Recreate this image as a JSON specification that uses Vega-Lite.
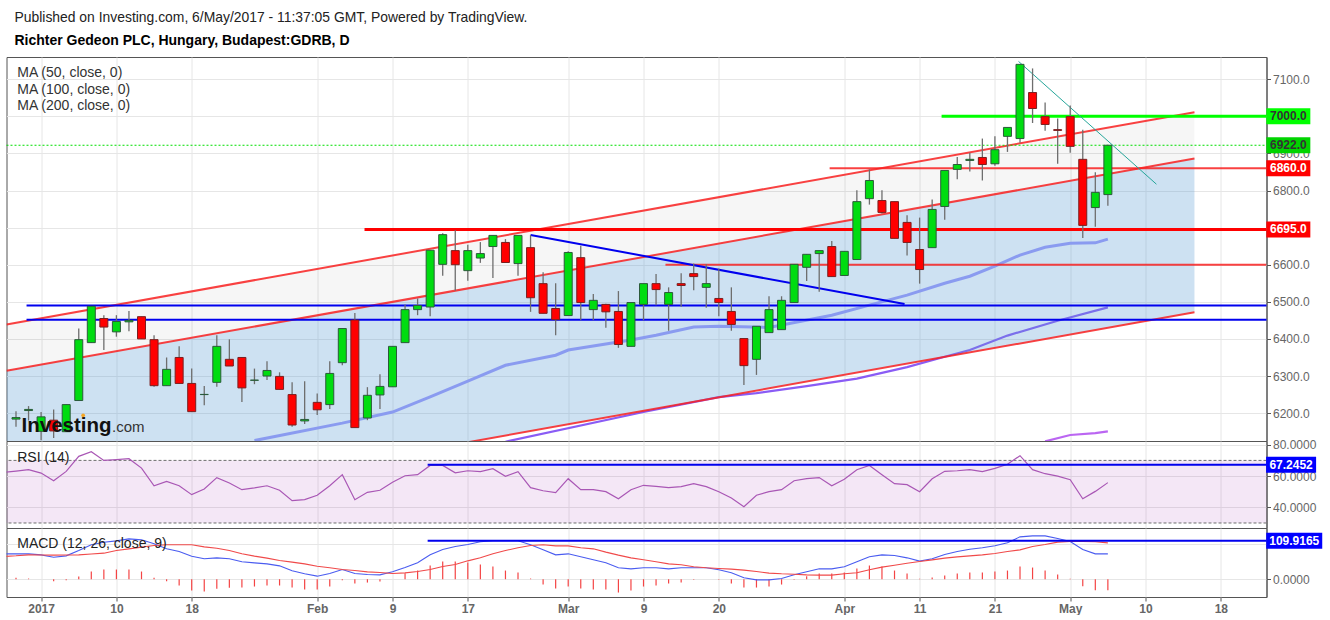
{
  "$schema": "https://vega.github.io/schema/vega-lite/v6.json",
  "description": "Richter Gedeon daily candles with RSI and MACD",
  "padding": {"left": 1.5, "top": 11, "right": 0, "bottom": 0},
  "background": "white",
  "title": {
    "text": "Published on Investing.com, 6/May/2017 - 11:37:05 GMT, Powered by TradingView.",
    "subtitle": "Richter Gedeon PLC, Hungary, Budapest:GDRB, D",
    "anchor": "start",
    "frame": "group",
    "dx": 8,
    "offset": 8.5,
    "font": "Liberation Sans",
    "fontSize": 13.9,
    "fontWeight": "normal",
    "color": "#222222",
    "subtitleFont": "Liberation Sans",
    "subtitleFontSize": 14,
    "subtitleFontWeight": "bold",
    "subtitleColor": "#000000",
    "subtitlePadding": 9
  },
  "config": {
    "view": {"stroke": "#555555"},
    "axis": {
      "title": null,
      "gridColor": "#e6e6e6",
      "labelFont": "Liberation Sans",
      "labelFontSize": 12,
      "labelColor": "#666666",
      "domainColor": "#555555",
      "tickColor": "#555555",
      "tickSize": 4
    },
    "text": {"font": "Liberation Sans"}
  },
  "spacing": 0,
  "bounds": "flush",
  "datasets": {
    "candles": [
      {"i":-2,"open":6184,"high":6205,"low":6163,"close":6188},
      {"i":-1,"open":6207,"high":6219,"low":6180,"close":6210},
      {"i":0,"open":6151,"high":6203,"low":6127,"close":6190},
      {"i":1,"open":6181,"high":6210,"low":6133,"close":6152},
      {"i":2,"open":6150,"high":6223,"low":6150,"close":6223},
      {"i":3,"open":6234,"high":6428,"low":6234,"close":6398},
      {"i":4,"open":6390,"high":6488,"low":6390,"close":6488},
      {"i":5,"open":6455,"high":6464,"low":6370,"close":6432},
      {"i":6,"open":6419,"high":6464,"low":6406,"close":6447},
      {"i":7,"open":6446,"high":6475,"low":6421,"close":6450},
      {"i":8,"open":6460,"high":6460,"low":6400,"close":6400},
      {"i":9,"open":6398,"high":6410,"low":6271,"close":6274},
      {"i":10,"open":6274,"high":6350,"low":6274,"close":6318},
      {"i":11,"open":6350,"high":6380,"low":6280,"close":6280},
      {"i":12,"open":6280,"high":6320,"low":6204,"close":6204},
      {"i":13,"open":6250,"high":6273,"low":6221,"close":6250.5},
      {"i":14,"open":6283,"high":6410,"low":6271,"close":6380},
      {"i":15,"open":6345,"high":6399,"low":6327,"close":6327},
      {"i":16,"open":6350,"high":6350,"low":6230,"close":6268},
      {"i":17,"open":6288.5,"high":6320,"low":6278,"close":6289},
      {"i":18,"open":6300,"high":6340,"low":6289,"close":6315},
      {"i":19,"open":6299,"high":6310,"low":6264,"close":6264},
      {"i":20,"open":6250,"high":6283,"low":6163,"close":6168},
      {"i":21,"open":6179,"high":6286,"low":6171,"close":6183},
      {"i":22,"open":6229,"high":6253,"low":6195,"close":6209},
      {"i":23,"open":6223,"high":6340,"low":6211,"close":6307},
      {"i":24,"open":6336,"high":6428,"low":6329,"close":6428},
      {"i":25,"open":6451,"high":6470,"low":6161,"close":6161},
      {"i":26,"open":6187,"high":6270,"low":6181,"close":6248},
      {"i":27,"open":6249,"high":6305,"low":6211,"close":6272},
      {"i":28,"open":6271,"high":6380,"low":6271,"close":6380},
      {"i":29,"open":6390,"high":6493,"low":6390,"close":6479},
      {"i":30,"open":6479,"high":6509,"low":6464,"close":6490},
      {"i":31,"open":6486,"high":6639,"low":6461,"close":6639},
      {"i":32,"open":6601,"high":6685,"low":6570,"close":6681},
      {"i":33,"open":6638,"high":6693,"low":6530,"close":6600},
      {"i":34,"open":6584,"high":6654,"low":6557,"close":6638},
      {"i":35,"open":6618,"high":6661,"low":6605,"close":6630},
      {"i":36,"open":6649,"high":6679,"low":6564,"close":6679},
      {"i":37,"open":6660,"high":6669,"low":6606,"close":6606},
      {"i":38,"open":6603,"high":6679,"low":6570,"close":6679},
      {"i":39,"open":6646,"high":6680,"low":6473,"close":6511},
      {"i":40,"open":6549,"high":6580,"low":6469,"close":6469},
      {"i":41,"open":6482,"high":6550,"low":6410,"close":6452},
      {"i":42,"open":6463,"high":6636,"low":6463,"close":6633},
      {"i":43,"open":6619,"high":6651,"low":6450,"close":6498},
      {"i":44,"open":6479,"high":6521,"low":6450,"close":6504},
      {"i":45,"open":6493,"high":6495,"low":6430,"close":6473},
      {"i":46,"open":6474,"high":6529,"low":6376,"close":6385},
      {"i":47,"open":6380,"high":6498,"low":6380,"close":6498},
      {"i":48,"open":6493,"high":6549,"low":6450,"close":6549},
      {"i":49,"open":6549,"high":6575,"low":6491,"close":6533},
      {"i":50,"open":6493,"high":6539,"low":6422,"close":6525},
      {"i":51,"open":6549,"high":6577,"low":6487,"close":6544},
      {"i":52,"open":6576,"high":6603,"low":6531,"close":6568},
      {"i":53,"open":6539,"high":6601,"low":6484,"close":6549},
      {"i":54,"open":6509,"high":6590,"low":6461,"close":6498},
      {"i":55,"open":6474,"high":6539,"low":6422,"close":6439},
      {"i":56,"open":6401,"high":6401,"low":6276,"close":6328},
      {"i":57,"open":6345,"high":6434,"low":6303,"close":6434},
      {"i":58,"open":6417,"high":6515,"low":6417,"close":6479},
      {"i":59,"open":6425,"high":6515,"low":6425,"close":6504},
      {"i":60,"open":6498,"high":6601,"low":6498,"close":6601},
      {"i":61,"open":6593,"high":6628,"low":6556,"close":6628},
      {"i":62,"open":6630,"high":6638,"low":6527,"close":6638},
      {"i":63,"open":6649,"high":6664,"low":6568,"close":6568},
      {"i":64,"open":6571,"high":6636,"low":6571,"close":6636},
      {"i":65,"open":6614,"high":6801,"low":6614,"close":6770},
      {"i":66,"open":6778,"high":6857,"low":6762,"close":6827},
      {"i":67,"open":6773,"high":6801,"low":6738,"close":6741},
      {"i":68,"open":6770,"high":6770,"low":6671,"close":6671},
      {"i":69,"open":6714,"high":6733,"low":6625,"close":6660},
      {"i":70,"open":6641,"high":6727,"low":6549,"close":6587},
      {"i":71,"open":6646,"high":6776,"low":6646,"close":6749},
      {"i":72,"open":6757,"high":6854,"low":6721,"close":6854},
      {"i":73,"open":6857,"high":6890,"low":6830,"close":6870},
      {"i":74,"open":6881,"high":6902,"low":6851,"close":6884},
      {"i":75,"open":6889,"high":6940,"low":6827,"close":6870},
      {"i":76,"open":6872,"high":6946,"low":6867,"close":6910},
      {"i":77,"open":6946,"high":6970,"low":6904,"close":6970},
      {"i":78,"open":6940,"high":7140,"low":6929,"close":7140},
      {"i":79,"open":7064,"high":7129,"low":6982,"close":7021},
      {"i":80,"open":6999,"high":7037,"low":6961,"close":6978},
      {"i":81,"open":6964,"high":6994,"low":6872,"close":6962},
      {"i":82,"open":6999,"high":7029,"low":6902,"close":6919},
      {"i":83,"open":6884,"high":6964,"low":6672,"close":6706},
      {"i":84,"open":6754,"high":6849,"low":6702,"close":6795},
      {"i":85,"open":6789,"high":6922,"low":6759,"close":6922}
    ],
    "ma50": [
      {"i":17,"v":6126},{"i":24,"v":6173},{"i":28,"v":6203},{"i":31,"v":6244},{"i":34,"v":6286},{"i":37,"v":6329},
      {"i":41,"v":6356},{"i":42,"v":6370},{"i":47,"v":6397},{"i":49,"v":6410},{"i":52,"v":6432},{"i":54,"v":6434},
      {"i":58,"v":6431},{"i":63,"v":6464},{"i":66,"v":6491},{"i":69,"v":6518},{"i":72,"v":6550},{"i":74,"v":6569},
      {"i":76,"v":6596},{"i":78,"v":6626},{"i":80,"v":6647},{"i":82,"v":6658},{"i":84,"v":6659},{"i":85,"v":6669}
    ],
    "ma100": [
      {"i":37,"v":6123},{"i":48,"v":6203},{"i":54,"v":6243},{"i":57,"v":6254},{"i":61,"v":6273},{"i":65,"v":6293},
      {"i":69,"v":6324},{"i":72,"v":6352},{"i":74,"v":6370},{"i":77,"v":6409},{"i":81,"v":6449},{"i":85,"v":6485}
    ],
    "ma200": [{"i":80,"v":6124},{"i":82,"v":6141},{"i":84,"v":6146},{"i":85,"v":6151}],
    "channel": [
      {"i":-2.757,"upper":6439,"middle":6314,"lower":5899},
      {"i":91.9,"upper":7011,"middle":6886,"lower":6472}
    ],
    "channelLines": [
      {"name":"upper","i":-2.757,"v":6439},{"name":"upper","i":91.9,"v":7011},
      {"name":"middle","i":-2.757,"v":6314},{"name":"middle","i":91.9,"v":6886},
      {"name":"lower","i":-2.757,"v":5899},{"name":"lower","i":91.9,"v":6472},
      {"name":"6860","i":62.83,"v":6860},{"name":"6860","i":97.64,"v":6860},
      {"name":"6600","i":49.75,"v":6600},{"name":"6600","i":97.64,"v":6600}
    ],
    "support": [{"i":25.77,"v":6695},{"i":97.64,"v":6695}],
    "resistance": [{"i":71.75,"v":7000},{"i":97.64,"v":7000}],
    "lastPrice": [{"i":-2.757,"v":6922},{"i":97.64,"v":6922}],
    "blueLevels": [
      {"name":"6490","i":-1.16,"v":6490},{"name":"6490","i":97.64,"v":6490},
      {"name":"6452","i":-1.16,"v":6452},{"name":"6452","i":97.64,"v":6452},
      {"name":"fall","i":39,"v":6680},{"name":"fall","i":68.8,"v":6494}
    ],
    "tealTrend": [{"i":77.88,"v":7148},{"i":88.87,"v":6817}],
    "maLabels": [
      {"i":-1.9,"v":7116,"label":"MA (50, close, 0)"},
      {"i":-1.9,"v":7072,"label":"MA (100, close, 0)"},
      {"i":-1.9,"v":7027,"label":"MA (200, close, 0)"}
    ],
    "logo": [{"i":-1.56,"v":6148,"label":"Investing"}],
    "logoCom": [{"i":5.65,"v":6148,"label":".com"}],
    "logoDot": [{"i":3.35,"v":6194}],
    "tags": [
      {"i":99.38,"v":7000,"label":"7000.0"},
      {"i":99.38,"v":6922,"label":"6922.0"},
      {"i":99.38,"v":6860,"label":"6860.0"},
      {"i":99.38,"v":6695,"label":"6695.0"}
    ],
    "rsi": [
      {"i":-3,"v":62.4},{"i":-2,"v":63.2},{"i":-1,"v":64.1},{"i":0,"v":61.9},{"i":1,"v":57},{"i":2,"v":63},{"i":3,"v":72.6},
      {"i":4,"v":75.6},{"i":5,"v":70},{"i":6,"v":70.5},{"i":7,"v":71.1},{"i":8,"v":65.1},{"i":9,"v":53.8},{"i":10,"v":56.6},
      {"i":11,"v":53.8},{"i":12,"v":48.1},{"i":13,"v":51.7},{"i":14,"v":59},{"i":15,"v":55.6},{"i":16,"v":51.3},{"i":17,"v":52.4},
      {"i":18,"v":53.8},{"i":19,"v":50.9},{"i":20,"v":44.3},{"i":21,"v":44.9},{"i":22,"v":47.7},{"i":23,"v":53.8},{"i":24,"v":60.9},
      {"i":25,"v":44.9},{"i":26,"v":49.6},{"i":27,"v":50.9},{"i":28,"v":56},{"i":29,"v":60.2},{"i":30,"v":60.9},{"i":31,"v":66.8},
      {"i":32,"v":66.8},{"i":33,"v":62.1},{"i":34,"v":63.4},{"i":35,"v":62.8},{"i":36,"v":64.7},{"i":37,"v":59.8},{"i":38,"v":62.8},
      {"i":39,"v":52.6},{"i":40,"v":50.6},{"i":41,"v":49.4},{"i":42,"v":58.3},{"i":43,"v":51.3},{"i":44,"v":51.3},{"i":45,"v":50},
      {"i":46,"v":45.5},{"i":47,"v":51.3},{"i":48,"v":54.1},{"i":49,"v":53.4},{"i":50,"v":52.6},{"i":51,"v":53.2},{"i":52,"v":55.1},
      {"i":53,"v":53.2},{"i":54,"v":50},{"i":55,"v":46},{"i":56,"v":40.4},{"i":57,"v":47.7},{"i":58,"v":50},{"i":59,"v":51.3},
      {"i":60,"v":57},{"i":61,"v":58.3},{"i":62,"v":59},{"i":63,"v":53.8},{"i":64,"v":57.9},{"i":65,"v":64},{"i":66,"v":66.8},
      {"i":67,"v":60.9},{"i":68,"v":55.1},{"i":69,"v":54.5},{"i":70,"v":50},{"i":71,"v":58.3},{"i":72,"v":63},{"i":73,"v":63.4},
      {"i":74,"v":64.1},{"i":75,"v":62.8},{"i":76,"v":64.9},{"i":77,"v":67.5},{"i":78,"v":73},{"i":79,"v":64.1},{"i":80,"v":61.5},
      {"i":81,"v":60},{"i":82,"v":57.7},{"i":83,"v":45.5},{"i":84,"v":50.2},{"i":85,"v":55.8}
    ],
    "rsiBand": [{"top":70,"bottom":30}],
    "rsiLevel": [{"i":30.8,"v":67.2452},{"i":97.64,"v":67.2452}],
    "rsiLabel": [{"i":-1.9,"v":71.3,"label":"RSI (14)"}],
    "rsiTag": [{"i":99.6,"v":67.2452,"label":"67.2452"}],
    "macd": [
      {"i":-3,"macd":72.7,"signal":65,"hist":0},{"i":-2,"macd":72.7,"signal":67,"hist":3.8},{"i":-1,"macd":72.7,"signal":69.8,"hist":1.9},
      {"i":0,"macd":69.8,"signal":69.5,"hist":0},{"i":1,"macd":63.1,"signal":68.9,"hist":-5.7},{"i":2,"macd":66.9,"signal":69.4,"hist":-2.9},
      {"i":3,"macd":82.2,"signal":69.8,"hist":7.6},{"i":4,"macd":98.5,"signal":72,"hist":22},{"i":5,"macd":106.1,"signal":74.6,"hist":27.7},
      {"i":6,"macd":109.9,"signal":82.2,"hist":27.7},{"i":7,"macd":115.6,"signal":87,"hist":27.7},{"i":8,"macd":112.8,"signal":91.8,"hist":22},
      {"i":9,"macd":101.3,"signal":96.6,"hist":3.8},{"i":10,"macd":87,"signal":98.5,"hist":-5.7},{"i":11,"macd":79.4,"signal":98.5,"hist":-18.1},
      {"i":12,"macd":66,"signal":98.5,"hist":-32.5},{"i":13,"macd":58.4,"signal":92.7,"hist":-35.3},{"i":14,"macd":61.2,"signal":88.9,"hist":-27.7},
      {"i":15,"macd":58.4,"signal":82.2,"hist":-24.8},{"i":16,"macd":49.8,"signal":72.7,"hist":-23.9},{"i":17,"macd":46.9,"signal":66,"hist":-21},
      {"i":18,"macd":44,"signal":60.3,"hist":-18.1},{"i":19,"macd":38.3,"signal":53.6,"hist":-18.1},{"i":20,"macd":24,"signal":48.8,"hist":-23.9},
      {"i":21,"macd":15.4,"signal":44,"hist":-29.6},{"i":22,"macd":8.7,"signal":37.3,"hist":-29.6},{"i":23,"macd":16.3,"signal":32.6,"hist":-21},
      {"i":24,"macd":27.8,"signal":27.8,"hist":-2.9},{"i":25,"macd":16.3,"signal":24.9,"hist":-12.4},{"i":26,"macd":13.5,"signal":21.1,"hist":-9.6},
      {"i":27,"macd":12.5,"signal":19.2,"hist":-6.7},{"i":28,"macd":21.1,"signal":16.3,"hist":0},{"i":29,"macd":33.5,"signal":18.2,"hist":17.2},
      {"i":30,"macd":46.9,"signal":22,"hist":24.8},{"i":31,"macd":69.8,"signal":27.8,"hist":39.2},{"i":32,"macd":85.1,"signal":36.4,"hist":50.6},
      {"i":33,"macd":93.7,"signal":42.1,"hist":50.6},{"i":34,"macd":99.4,"signal":52.6,"hist":47.8},{"i":35,"macd":107.1,"signal":61.2,"hist":42},
      {"i":36,"macd":110,"signal":72.7,"hist":36.3},{"i":37,"macd":110,"signal":82.2,"hist":24.8},{"i":38,"macd":110,"signal":89.9,"hist":19.1},
      {"i":39,"macd":98.5,"signal":96.6,"hist":1.9},{"i":40,"macd":84.2,"signal":98.5,"hist":-15.3},{"i":41,"macd":69.8,"signal":95.6,"hist":-26.7},
      {"i":42,"macd":72.7,"signal":95.6,"hist":-21},{"i":43,"macd":64.1,"signal":89.9,"hist":-26.7},{"i":44,"macd":55.5,"signal":87,"hist":-29.6},
      {"i":45,"macd":46.9,"signal":77.5,"hist":-29.6},{"i":46,"macd":32.6,"signal":68.9,"hist":-38.2},{"i":47,"macd":29.7,"signal":61.2,"hist":-32.5},
      {"i":48,"macd":32.6,"signal":55.5,"hist":-21},{"i":49,"macd":32.6,"signal":49.8,"hist":-18.1},{"i":50,"macd":29.7,"signal":44,"hist":-12.4},
      {"i":51,"macd":32.6,"signal":41.2,"hist":-9.6},{"i":52,"macd":32.6,"signal":35.5,"hist":-1.9},{"i":53,"macd":32.6,"signal":32.6,"hist":0},
      {"i":54,"macd":26.9,"signal":30.7,"hist":-1.9},{"i":55,"macd":18.3,"signal":28.8,"hist":-12.4},{"i":56,"macd":3.9,"signal":25.9,"hist":-23.9},
      {"i":57,"macd":-1.8,"signal":22.1,"hist":-23.9},{"i":58,"macd":-1.8,"signal":17.3,"hist":-21},{"i":59,"macd":2,"signal":15.4,"hist":-15.3},
      {"i":60,"macd":12.5,"signal":14.4,"hist":-1.9},{"i":61,"macd":21.1,"signal":12.5,"hist":8.6},{"i":62,"macd":29.7,"signal":11.6,"hist":16.2},
      {"i":63,"macd":29.7,"signal":11.6,"hist":16.2},{"i":64,"macd":35.5,"signal":15.4,"hist":19.1},{"i":65,"macd":49.8,"signal":18.3,"hist":30.6},
      {"i":66,"macd":64.1,"signal":26.9,"hist":39.2},{"i":67,"macd":69.8,"signal":34.5,"hist":36.3},{"i":68,"macd":67.9,"signal":40.2,"hist":24.8},
      {"i":69,"macd":61.2,"signal":45.9,"hist":16.2},{"i":70,"macd":51.7,"signal":50.7,"hist":1},{"i":71,"macd":58.4,"signal":55.5,"hist":4.8},
      {"i":72,"macd":70.8,"signal":60.3,"hist":10.5},{"i":73,"macd":79.4,"signal":64.1,"hist":16.2},{"i":74,"macd":86,"signal":66.9,"hist":19.1},
      {"i":75,"macd":89.9,"signal":69.8,"hist":19.1},{"i":76,"macd":95.6,"signal":73.6,"hist":22},{"i":77,"macd":104.2,"signal":79.4,"hist":24.8},
      {"i":78,"macd":121.4,"signal":84.1,"hist":36.3},{"i":79,"macd":124.2,"signal":93.7,"hist":33.4},{"i":80,"macd":124.2,"signal":99.4,"hist":24.8},
      {"i":81,"macd":116.6,"signal":106.1,"hist":13.4},{"i":82,"macd":108,"signal":108,"hist":1},{"i":83,"macd":85.1,"signal":108,"hist":-20},
      {"i":84,"macd":72.7,"signal":107.1,"hist":-31.5},{"i":85,"macd":72.7,"signal":104.2,"hist":-31.5}
    ],
    "macdLevel": [{"i":30.8,"v":109.9165},{"i":97.64,"v":109.9165}],
    "macdLabel": [{"i":-1.9,"v":100.3,"label":"MACD (12, 26, close, 9)"}],
    "macdTag": [{"i":99.85,"v":109.9165,"label":"109.9165"}]
  },
  "vconcat": [
    {
      "width": 1260,
      "height": 384,
      "encoding": {
        "x": {
          "field": "i",
          "type": "quantitative",
          "scale": {"domain": [-2.757, 97.64], "nice": false, "zero": false, "padding": 0},
          "axis": {"values": [0,6,12,22,28,34,42,48,54,64,70,76,82,88,94], "labels": false, "ticks": false, "domain": false, "grid": true}
        },
        "y": {
          "field": "v",
          "type": "quantitative",
          "scale": {"domain": [6124.9, 7159.8], "nice": false, "zero": false},
          "axis": {
            "orient": "right",
            "values": [6200,6300,6400,6500,6600,6700,6800,6900,7000,7100],
            "grid": true,
            "labelExpr": "datum.value == 7000 || datum.value == 6700 ? '' : format(datum.value, '.1f')"
          }
        }
      },
      "layer": [
        {"data": {"name": "ma100"}, "mark": {"type": "line", "clip": true, "stroke": "#8a5cf5", "strokeWidth": 2.2}},
        {"data": {"name": "ma200"}, "mark": {"type": "line", "clip": true, "stroke": "#bb66f2", "strokeWidth": 2.2}},
        {"data": {"name": "channel"}, "mark": {"type": "area", "clip": true, "color": "#000000", "opacity": 0.035},
          "encoding": {"y": {"field": "upper", "type": "quantitative"}, "y2": {"field": "middle"}}},
        {"data": {"name": "channel"}, "mark": {"type": "area", "clip": true, "color": "#5b9bd5", "opacity": 0.3},
          "encoding": {"y": {"field": "middle", "type": "quantitative"}, "y2": {"field": "lower"}}},
        {"data": {"name": "ma50"}, "mark": {"type": "line", "clip": true, "stroke": "#8a9bf0", "strokeWidth": 3}},
        {"data": {"name": "channelLines"}, "mark": {"type": "line", "clip": true, "stroke": "#f82020", "strokeWidth": 2, "opacity": 0.85},
          "encoding": {"detail": {"field": "name"}}},
        {"data": {"name": "lastPrice"}, "mark": {"type": "line", "stroke": "#00e000", "strokeWidth": 1.2, "strokeDash": [2, 2]}},
        {"data": {"name": "blueLevels"}, "mark": {"type": "line", "stroke": "#0000ee", "strokeWidth": 2},
          "encoding": {"detail": {"field": "name"}}},
        {"data": {"name": "support"}, "mark": {"type": "line", "stroke": "#ff0000", "strokeWidth": 3}},
        {"data": {"name": "resistance"}, "mark": {"type": "line", "stroke": "#00ff00", "strokeWidth": 3}},
        {"data": {"name": "tealTrend"}, "mark": {"type": "line", "stroke": "#26a69a", "strokeWidth": 1}},
        {"data": {"name": "candles"}, "mark": {"type": "rule", "stroke": "#6e6e6e", "strokeWidth": 1.3},
          "encoding": {"y": {"field": "low", "type": "quantitative"}, "y2": {"field": "high"}}},
        {"data": {"name": "candles"}, "mark": {"type": "bar", "width": 8, "strokeWidth": 1},
          "encoding": {
            "y": {"field": "open", "type": "quantitative"},
            "y2": {"field": "close"},
            "fill": {"condition": {"test": "datum.close >= datum.open", "value": "#00dc10"}, "value": "#ff0000"},
            "stroke": {"condition": {"test": "datum.close >= datum.open", "value": "#2b5a3a"}, "value": "#7a1f1f"}
          }},
        {"data": {"name": "maLabels"}, "mark": {"type": "text", "align": "left", "baseline": "middle", "fontSize": 14, "color": "#333333"},
          "encoding": {"text": {"field": "label"}}},
        {"data": {"name": "logo"}, "mark": {"type": "text", "align": "left", "baseline": "alphabetic", "fontSize": 20.5, "fontWeight": "bold", "color": "#111111"},
          "encoding": {"text": {"field": "label"}}},
        {"data": {"name": "logoCom"}, "mark": {"type": "text", "align": "left", "baseline": "alphabetic", "fontSize": 15, "color": "#333333"},
          "encoding": {"text": {"field": "label"}}},
        {"data": {"name": "logoDot"}, "mark": {"type": "point", "filled": true, "size": 14, "color": "#f5a623", "opacity": 1}},
        {"data": {"name": "tags"}, "mark": {"type": "rect", "width": 44, "height": 16},
          "encoding": {
            "fill": {"condition": [
              {"test": "datum.v == 7000", "value": "#00ff00"},
              {"test": "datum.v == 6922", "value": "#00d400"}
            ], "value": "#ff0000"}
          }},
        {"data": {"name": "tags"}, "mark": {"type": "text", "align": "center", "baseline": "middle", "fontSize": 12, "fontWeight": "bold"},
          "encoding": {
            "text": {"field": "label"},
            "color": {"condition": {"test": "datum.v > 6900", "value": "#333333"}, "value": "#ffffff"}
          }},
        {"data": {"values": [{}]}, "mark": {"type": "rule", "stroke": "#000000", "strokeWidth": 1.5},
          "encoding": {"x": {"datum": -2.757}, "x2": {"datum": 102.1}, "y": {"datum": 7159.8}}},
        {"data": {"values": [{}]}, "mark": {"type": "rule", "stroke": "#000000", "strokeWidth": 1.5},
          "encoding": {"x": {"datum": -2.8}, "y": {"datum": 7159.8}, "y2": {"datum": 5660}}},
        {"data": {"values": [{}]}, "mark": {"type": "rule", "stroke": "#000000", "strokeWidth": 1.5},
          "encoding": {"x": {"datum": 102.1}, "y": {"datum": 7159.8}, "y2": {"datum": 5660}}},
        {"data": {"values": [{}]}, "mark": {"type": "rule", "stroke": "#000000", "strokeWidth": 2.5},
          "encoding": {"x": {"datum": -3.52}, "x2": {"datum": 102.66}, "y": {"datum": 5644.6}}}
      ]
    },
    {
      "width": 1260,
      "height": 87,
      "encoding": {
        "x": {
          "field": "i",
          "type": "quantitative",
          "scale": {"domain": [-2.757, 97.64], "nice": false, "zero": false},
          "axis": {"values": [0,6,12,22,28,34,42,48,54,64,70,76,82,88,94], "labels": false, "ticks": false, "domain": false, "grid": true}
        },
        "y": {
          "field": "v",
          "type": "quantitative",
          "scale": {"domain": [26.8, 82.4], "nice": false, "zero": false},
          "axis": {"orient": "right", "values": [40,60,80], "format": ".4f", "grid": true}
        }
      },
      "layer": [
        {"data": {"name": "rsiBand"}, "mark": {"type": "rect", "color": "#9c27b0", "opacity": 0.11},
          "encoding": {"x": {}, "y": {"field": "top", "type": "quantitative"}, "y2": {"field": "bottom"}}},
        {"data": {"name": "rsiBand"}, "mark": {"type": "rule", "stroke": "#6e6e6e", "strokeDash": [3, 2]},
          "encoding": {"x": {}, "y": {"field": "top", "type": "quantitative"}}},
        {"data": {"name": "rsiBand"}, "mark": {"type": "rule", "stroke": "#6e6e6e", "strokeDash": [3, 2]},
          "encoding": {"x": {}, "y": {"field": "bottom", "type": "quantitative"}}},
        {"data": {"name": "rsi"}, "mark": {"type": "line", "clip": true, "stroke": "#a957b5", "strokeWidth": 1.2}},
        {"data": {"name": "rsiLevel"}, "mark": {"type": "line", "stroke": "#0000ee", "strokeWidth": 2}},
        {"data": {"name": "rsiLabel"}, "mark": {"type": "text", "align": "left", "baseline": "middle", "fontSize": 14, "color": "#222222"},
          "encoding": {"text": {"field": "label"}}},
        {"data": {"name": "rsiTag"}, "mark": {"type": "rect", "width": 50, "height": 16, "fill": "#0000ff"}},
        {"data": {"name": "rsiTag"}, "mark": {"type": "text", "align": "center", "baseline": "middle", "fontSize": 12, "fontWeight": "bold", "color": "#ffffff"},
          "encoding": {"text": {"field": "label"}}}
      ]
    },
    {
      "width": 1260,
      "height": 69,
      "encoding": {
        "x": {
          "field": "i",
          "type": "quantitative",
          "scale": {"domain": [-2.757, 97.64], "nice": false, "zero": false},
          "axis": {
            "values": [0,6,12,22,28,34,42,48,54,64,70,76,82,88,94],
            "grid": true,
            "domain": false,
            "labelOverlap": false,
            "labelFlush": false,
            "labelPadding": 2,
            "labelFontWeight": "bold",
            "labelExpr": "({'0':'2017','6':'10','12':'18','22':'Feb','28':'9','34':'17','42':'Mar','48':'9','54':'20','64':'Apr','70':'11','76':'21','82':'May','88':'10','94':'18'})[datum.value]"
          }
        },
        "y": {
          "field": "v",
          "type": "quantitative",
          "scale": {"domain": [-51, 146.7], "nice": false, "zero": false},
          "axis": {
            "orient": "right",
            "values": [0,100],
            "grid": true,
            "labelExpr": "datum.value == 100 ? '' : format(datum.value, '.4f')"
          }
        }
      },
      "layer": [
        {"data": {"name": "macd"}, "mark": {"type": "rule", "stroke": "#f44444", "strokeWidth": 1.2},
          "encoding": {"y": {"field": "hist", "type": "quantitative"}, "y2": {"datum": 0}}},
        {"data": {"name": "macd"}, "mark": {"type": "line", "clip": true, "stroke": "#4a5cf0", "strokeWidth": 1.1},
          "encoding": {"y": {"field": "macd", "type": "quantitative"}}},
        {"data": {"name": "macd"}, "mark": {"type": "line", "clip": true, "stroke": "#f04a4a", "strokeWidth": 1.1},
          "encoding": {"y": {"field": "signal", "type": "quantitative"}}},
        {"data": {"name": "macdLevel"}, "mark": {"type": "line", "stroke": "#0000ee", "strokeWidth": 2}},
        {"data": {"name": "macdLabel"}, "mark": {"type": "text", "align": "left", "baseline": "middle", "fontSize": 14, "color": "#222222"},
          "encoding": {"text": {"field": "label"}}},
        {"data": {"name": "macdTag"}, "mark": {"type": "rect", "width": 56, "height": 16, "fill": "#0000ff"}},
        {"data": {"name": "macdTag"}, "mark": {"type": "text", "align": "center", "baseline": "middle", "fontSize": 12, "fontWeight": "bold", "color": "#ffffff"},
          "encoding": {"text": {"field": "label"}}}
      ]
    }
  ]
}
